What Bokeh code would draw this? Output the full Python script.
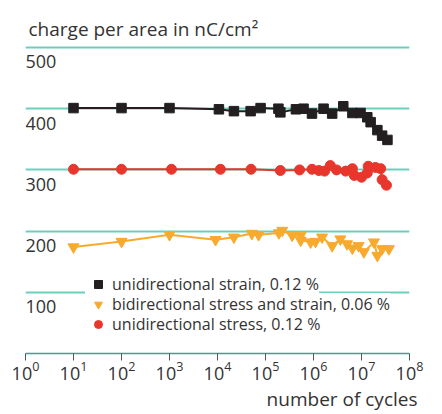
from bokeh.plotting import figure
from bokeh.models import Range1d, Legend, LegendItem, Title, FixedTicker
from bokeh.core.properties import value
from bokeh.embed import file_html
from bokeh.resources import INLINE

# ---------------- data ----------------
strain_cycles = [1e1, 1e2, 1e3, 1.07e4, 2.2e4, 4.9e4, 7.9e4, 1.86e5, 2.04e5, 4.3e5,
                 6.2e5, 9.3e5, 1.62e6, 2.45e6, 4.17e6, 6.46e6, 9.55e6, 1.32e7,
                 1.55e7, 2.14e7, 2.69e7, 3.47e7]
strain_charge = [401, 401, 401, 399, 396, 396, 401, 400, 394, 399,
                 400, 392, 400, 392, 404, 393, 393, 386,
                 378, 365, 356, 349]

bi_cycles = [1e1, 1e2, 1e3, 9.1e3, 2.2e4, 5.2e4, 7.2e4, 1.9e5, 2.24e5, 3.6e5,
             5.4e5, 5.4e5, 8.7e5, 1.1e6, 1.51e6, 2.45e6, 3.63e6, 5.0e6, 6.46e6,
             8.7e6, 1.12e7, 1.82e7, 2.14e7, 2.69e7, 3.72e7]
bi_charge = [174, 183, 194, 186, 190, 196, 194, 197, 201, 193,
             193, 185, 182, 183, 190, 176, 187, 179, 172,
             176, 166, 182, 160, 171, 171]

stress_cycles = [1e1, 1e2, 1.1e3, 1.15e4, 5.0e4, 2.04e5, 5.13e5, 9.3e5, 1.29e6,
                 1.70e6, 2.24e6, 3.02e6, 4.68e6, 6.46e6, 7.08e6, 1.0e7, 1.32e7,
                 1.38e7, 1.95e7, 2.51e7, 2.69e7, 3.31e7]
stress_charge = [301, 301, 301, 301, 301, 299, 300, 301, 299,
                 298, 307, 300, 298, 302, 291, 288, 295,
                 306, 304, 302, 284, 275]

series_labels = ["unidirectional strain, 0.12 %",
                 "bidirectional stress and strain, 0.06 %",
                 "unidirectional stress, 0.12 %"]

x_ticks = [1, 10, 100, 1e3, 1e4, 1e5, 1e6, 1e7, 1e8]
y_ticks = [100, 200, 300, 400, 500]
y_tick_labels = ["100", "200", "300", "400", "500"]

y_title = "charge per area in nC/cm²"
x_title = "number of cycles"

# ---------------- style ----------------
FONT = "Open Sans"
TEXT = "#333333"
TEAL = "#6dcfbb"
AXIS = "#2fa88c"
BLACK = "#231f20"
ORANGE = "#f8aa2e"
RED = "#e8362c"

p = figure(width=442, height=414, x_axis_type="log",
           x_range=Range1d(1, 1e8), y_range=Range1d(0, 509.8),
           output_backend="svg", toolbar_location=None,
           min_border_left=25, min_border_right=33,
           min_border_top=41, min_border_bottom=61)
p.outline_line_color = None
p.background_fill_color = "white"
p.border_fill_color = "white"

p.title = Title(text=y_title, align="left", text_font=FONT,
                text_font_size="19px", text_font_style="normal",
                text_color=TEXT, standoff=0, offset=3)

p.yaxis.visible = False
p.xgrid.visible = False
p.ygrid.ticker = FixedTicker(ticks=y_ticks)
p.ygrid.grid_line_color = TEAL
p.ygrid.grid_line_width = 2

xa = p.xaxis[0]
xa.ticker = FixedTicker(ticks=x_ticks)
xa.axis_line_color = AXIS
xa.axis_line_width = 1.5
xa.major_tick_line_color = "#555555"
xa.major_tick_out = 7
xa.major_tick_in = 0
xa.minor_tick_line_color = None
xa.major_label_text_font = FONT
xa.major_label_text_font_size = "18px"
xa.major_label_text_color = TEXT
xa.major_label_standoff = 0

p.text(x=[x_ticks[0]] * len(y_ticks), y=y_ticks, text=y_tick_labels,
       text_baseline="top", text_align="left", y_offset=8,
       text_font=value(FONT), text_font_size="18px", text_color=TEXT)

p.line(strain_cycles, strain_charge, line_color=BLACK, line_width=2)
r1 = p.scatter(strain_cycles, strain_charge, marker="square", size=9.5,
               fill_color=BLACK, line_color=BLACK)
p.line(bi_cycles, bi_charge, line_color=ORANGE, line_width=2)
r2 = p.scatter(bi_cycles, bi_charge, marker="inverted_triangle", size=11,
               fill_color=ORANGE, line_color=ORANGE)
p.line(stress_cycles, stress_charge, line_color=RED, line_width=2)
r3 = p.scatter(stress_cycles, stress_charge, marker="circle", size=10,
               fill_color=RED, line_color=RED)

# one legend per row, so the rows can sit 20 px apart as in the original
rows = [(series_labels[2], r3, 18), (series_labels[1], r2, 38),
        (series_labels[0], r1, 58)]
for label, rend, ypos in rows:
    lg = Legend(items=[LegendItem(label=label, renderers=[rend])],
                location=(60, ypos), label_text_font=FONT,
                label_text_font_size="16px", label_text_color=TEXT,
                background_fill_color="white", background_fill_alpha=1,
                border_line_color=None, glyph_width=26, glyph_height=20,
                label_height=18, spacing=0, padding=1, label_standoff=1,
                margin=0)
    p.add_layout(lg, "center")

p.add_layout(Title(text=x_title, align="right", text_font=FONT,
                   text_font_size="19px", text_font_style="normal",
                   text_color=TEXT, standoff=2, offset=-8), "below")

open("out.html", "w").write(file_html(p, INLINE))
